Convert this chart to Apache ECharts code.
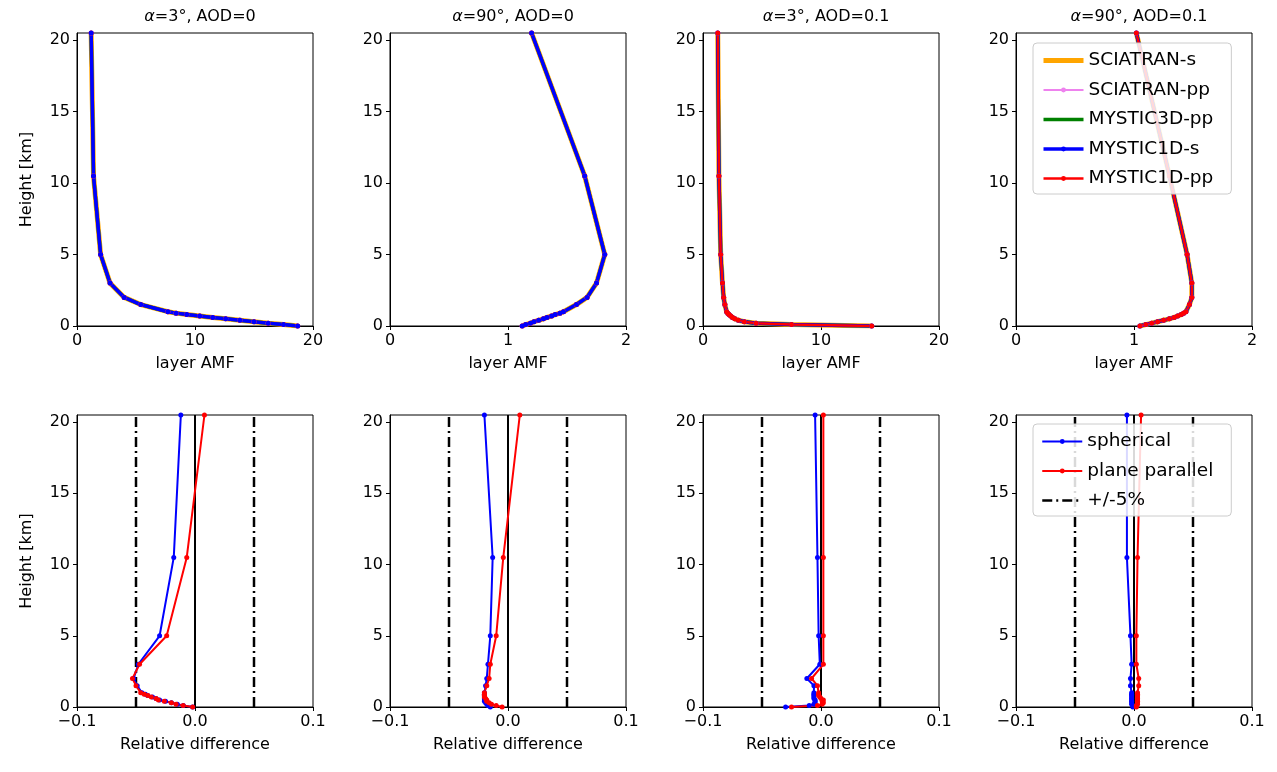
<!DOCTYPE html>
<html><head><meta charset="utf-8">
<script src="https://cdn.jsdelivr.net/npm/echarts@6/dist/echarts.min.js"></script>
<style>html,body{margin:0;padding:0;background:#fff}#c{width:1277px;height:772px}</style>
</head><body><div id="c"></div>
<script>
const heights = [0,0.1,0.2,0.3,0.4,0.5,0.6,0.7,0.8,0.9,1,1.5,2,3,5,10.5,20.5];
const amf1 = [18.7,17.5,16.2,15,13.8,12.6,11.5,10.4,9.3,8.4,7.7,5.4,4.0,2.8,2.0,1.4,1.2];
const amf2 = [1.12,1.15,1.19,1.22,1.26,1.3,1.33,1.37,1.4,1.44,1.47,1.58,1.67,1.75,1.82,1.65,1.2];
const amf3 = [14.3,7.5,4.5,3.5,3.0,2.7,2.5,2.35,2.2,2.1,2.0,1.85,1.75,1.65,1.5,1.35,1.25];
const amf4 = [1.05,1.1,1.15,1.2,1.25,1.3,1.34,1.37,1.4,1.42,1.44,1.47,1.49,1.49,1.45,1.3,1.02];
const sph1 = [-0.002,-0.01,-0.015,-0.02,-0.025,-0.03,-0.033,-0.036,-0.04,-0.042,-0.045,-0.049,-0.052,-0.048,-0.03,-0.018,-0.012];
const pp1  = [-0.002,-0.01,-0.016,-0.02,-0.026,-0.031,-0.033,-0.037,-0.04,-0.043,-0.046,-0.05,-0.053,-0.047,-0.024,-0.007,0.008];
const sph2 = [-0.015,-0.017,-0.018,-0.019,-0.02,-0.02,-0.02,-0.02,-0.02,-0.02,-0.02,-0.019,-0.018,-0.017,-0.015,-0.013,-0.02];
const pp2  = [-0.005,-0.01,-0.014,-0.016,-0.018,-0.018,-0.019,-0.02,-0.02,-0.02,-0.02,-0.018,-0.016,-0.015,-0.01,-0.004,0.01];
const sph3 = [-0.03,-0.01,-0.006,-0.005,-0.005,-0.005,-0.006,-0.006,-0.006,-0.006,-0.006,-0.006,-0.012,-0.001,-0.002,-0.003,-0.005];
const pp3  = [-0.025,-0.003,0.001,0.002,0.001,0.002,0.0,-0.001,-0.002,-0.002,-0.002,-0.003,-0.008,0.002,0.002,0.002,0.002];
const sph4 = [-0.001,-0.001,-0.002,-0.002,-0.002,-0.002,-0.002,-0.002,-0.002,-0.002,-0.002,-0.003,-0.003,-0.002,-0.003,-0.006,-0.006];
const pp4  = [0.002,0.002,0.003,0.003,0.003,0.003,0.003,0.003,0.003,0.003,0.003,0.004,0.004,0.002,0.002,0.003,0.006];
const titles = [['3','0'],['90','0'],['3','0.1'],['90','0.1']];
const topNames = ['SCIATRAN-s','SCIATRAN-pp','MYSTIC3D-pp','MYSTIC1D-s','MYSTIC1D-pp'];
const botNames = ['spherical','plane parallel','+/-5%'];

const amfs=[amf1,amf2,amf3,amf4], sphs=[sph1,sph2,sph3,sph4], pps=[pp1,pp2,pp3,pp4];
const lefts=[77,390,703,1016], W=236;
const font='DejaVu Sans';
const pair=(xs)=>xs.map((v,i)=>[v,heights[i]]);
const grids=[],xAxes=[],yAxes=[],series=[],titleArr=[];
function axBase(){return {axisLine:{show:true,onZero:false,lineStyle:{color:'#000',width:1}},axisTick:{show:true,inside:false,length:4,lineStyle:{color:'#000'}},
  axisLabel:{color:'#000',fontSize:16,fontFamily:font,margin:7},splitLine:{show:false}};}
const sty=[['#FFA500',5,'none'],['#EE82EE',2,'circle'],['#008000',3.5,'none'],['#0000FF',3.5,'circle'],['#FF0000',2.5,'circle']];
for(let r=0;r<2;r++)for(let c=0;c<4;c++){
  const gi=r*4+c;
  grids.push({left:lefts[c],width:W,top:r?415:33,height:r?292:293,show:true,borderColor:'#000',borderWidth:1});
  const small=(c%2===1);
  const xa=Object.assign(axBase(),{type:'value',gridIndex:gi,name:r?'Relative difference':'layer AMF',nameLocation:'middle',nameGap:30,
    nameTextStyle:{color:'#000',fontSize:16,fontFamily:font}});
  if(r===0){xa.min=0;xa.max=small?2:20;xa.interval=small?1:10;}
  else{xa.min=-0.1;xa.max=0.1;xa.interval=0.1;xa.axisLabel.formatter=v=>Math.abs(v)<1e-9?'0.0':(v<0?'\u22120.1':'0.1');}
  xAxes.push(xa);
  const ya=Object.assign(axBase(),{type:'value',gridIndex:gi,min:0,max:20.5,interval:5});
  ya.axisLabel.showMaxLabel=false;
  if(c===0){ya.name='Height [km]';ya.nameLocation='middle';ya.nameGap=42;ya.nameTextStyle={color:'#000',fontSize:16,fontFamily:font};}
  yAxes.push(ya);
  if(r===0){
    titleArr.push({text:'{i|\u03b1}{n|='+titles[c][0]+'\u00b0, AOD='+titles[c][1]+'}',left:lefts[c]+W/2,top:4,textAlign:'center',
      textStyle:{fontWeight:'normal',rich:{i:{fontStyle:'italic',fontWeight:'normal',fontSize:16,fontFamily:font,color:'#000'},n:{fontWeight:'normal',fontSize:16,fontFamily:font,color:'#000'}}}});
    const d=pair(amfs[c]);
    const order = c<2?[0,1,2,4,3]:[0,1,2,3,4];
    order.forEach(k=>{series.push({type:'line',name:topNames[k],xAxisIndex:gi,yAxisIndex:gi,data:d,color:sty[k][0],
      lineStyle:{width:sty[k][1],color:sty[k][0]},symbol:sty[k][2],symbolSize:5,showSymbol:sty[k][2]!=='none',itemStyle:{color:sty[k][0]},animation:false,z:3});});
  } else {
    [-0.05,0.05].forEach(v=>series.push({type:'line',name:'+/-5%',xAxisIndex:gi,yAxisIndex:gi,data:[[v,0],[v,20.5]],symbol:'none',color:'#000',
      lineStyle:{color:'#000',width:2.5,type:[10,4,2,4]},animation:false}));
    series.push({type:'line',xAxisIndex:gi,yAxisIndex:gi,data:[[0,0],[0,20.5]],symbol:'none',lineStyle:{color:'#000',width:2},animation:false,silent:true});
    series.push({type:'line',name:'spherical',xAxisIndex:gi,yAxisIndex:gi,data:pair(sphs[c]),color:'#0000FF',lineStyle:{width:2,color:'#0000FF'},symbol:'circle',symbolSize:5,itemStyle:{color:'#0000FF'},animation:false,z:3});
    series.push({type:'line',name:'plane parallel',xAxisIndex:gi,yAxisIndex:gi,data:pair(pps[c]),color:'#FF0000',lineStyle:{width:2,color:'#FF0000'},symbol:'circle',symbolSize:5,itemStyle:{color:'#FF0000'},animation:false,z:3});
  }
}
const hide={opacity:0};
const legBase={orient:'vertical',itemWidth:40,itemHeight:6,itemGap:10.5,padding:[8,18,6,8],borderColor:'#ccc',borderWidth:1,borderRadius:4,
  backgroundColor:'rgba(255,255,255,0.85)',textStyle:{fontSize:18.5,fontFamily:font,color:'#000'},selectedMode:false};
const chart=echarts.init(document.getElementById('c'));
chart.setOption({backgroundColor:'#fff',animation:false,title:titleArr,grid:grids,xAxis:xAxes,yAxis:yAxes,series,
  legend:[Object.assign({},legBase,{left:1033,top:43,data:topNames.map((n,i)=>{const o={name:n,lineStyle:{width:sty[i][1]}};if(i===0||i===2)o.itemStyle=hide;return o;})}),
          Object.assign({},legBase,{left:1033,top:424,data:botNames.map((n,i)=>i===2?{name:n,itemStyle:hide,lineStyle:{width:2.5}}:{name:n,lineStyle:{width:2}})})]});
</script></body></html>
